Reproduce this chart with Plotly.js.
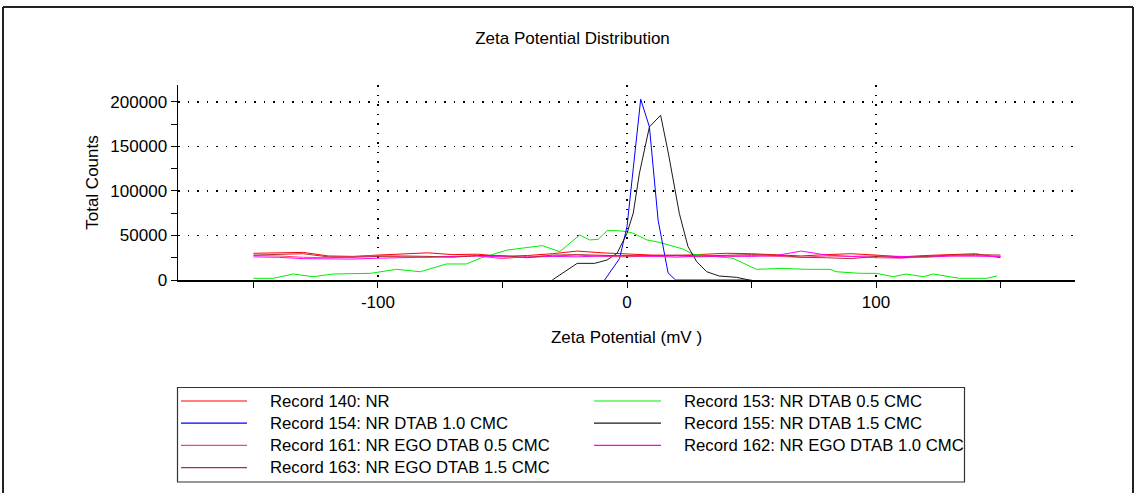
<!DOCTYPE html>
<html>
<head>
<meta charset="utf-8">
<script src="https://cdn.plot.ly/plotly-3.0.1.min.js"></script>
<style>html,body{margin:0;padding:0;background:#fff;}#chart{width:1137px;height:493px;}</style>
</head>
<body>
<div id="chart"></div>
<script>
// ---------- data ----------
const seriesNames = [
  "Record 140: NR",
  "Record 153: NR DTAB 0.5 CMC",
  "Record 154: NR DTAB 1.0 CMC",
  "Record 155: NR DTAB 1.5 CMC",
  "Record 161: NR EGO DTAB 0.5 CMC",
  "Record 162: NR EGO DTAB 1.0 CMC",
  "Record 163: NR EGO DTAB 1.5 CMC"
];
const seriesColors = ["#ff0000", "#00ee00", "#0000ff", "#1a1a1a", "#ff4080", "#ff00ff", "#b03030"];

const xFlat = [-150,-140,-130,-120,-110,-100,-90,-80,-70,-60,-50,-40,-30,-20,-10,0,10,20,30,40,50,60,70,80,90,100,110,120,130,140,150];
const rec140Y = [30000,30500,31000,27000,26500,28000,29500,30500,28500,29000,26500,27500,29500,32500,30500,29000,28000,27500,29000,30000,29500,28000,27000,28500,29500,28000,26000,27500,28500,29500,25000];
const rec161Y = [27500,27000,25500,25000,26000,27500,26000,25500,26500,27000,24000,26500,27000,28000,26500,26000,27000,25500,27000,26000,27500,26500,25500,27000,26500,25000,24500,26500,27000,27500,26500];
const rec162Y = [26000,25500,24000,23500,23500,24500,25000,26000,26500,27000,26000,25500,26500,26000,27000,27500,26500,27000,26000,27000,26500,27500,32500,28000,26500,27000,26500,25500,27000,27000,26500];
const rec163Y = [28000,28500,29500,26000,25500,26500,27000,26500,25500,27500,27500,25000,28000,28500,28000,27000,27500,28000,27000,28000,28500,28000,25500,25000,24000,26500,25000,26500,28000,28500,28000];

const rec153X = [-150,-142,-134,-126,-118,-103,-92.5,-83,-72.5,-64.5,-59,-48,-34,-27,-19,-15,-11.5,-8,-4,0,2.5,8,13,18.5,22.5,26.5,36,42.5,52,62,72,81.5,84,93.5,100,107,112,119,123,133.5,144.5,148.5];
const rec153Y = [1900,1900,6700,3700,6700,7500,12000,9300,18000,18000,24400,33700,38600,31800,50600,45000,45700,55400,55400,54300,52500,45000,42300,37500,34800,29000,26200,24400,12000,13000,12000,12000,9300,7500,7500,3700,6700,3700,6700,1900,1900,4500];

const rec154X = [-9,-3,0,5.5,9,12.5,16.5,19.5,30,40,50];
const rec154Y = [0,24000,60000,203000,172000,67000,8000,0,0,0,0];

const rec155X = [-30,-20,-13,-8,-4,0,2.5,5,9,13.5,16.5,21,24.5,28,32,37,44,49];
const rec155Y = [0,18700,18700,22500,30000,52500,75000,120000,172000,185000,144000,75000,37500,20600,9300,4500,3000,0];

const seriesX = [xFlat, rec153X, rec154X, rec155X, xFlat, xFlat, xFlat];
const seriesY = [rec140Y, rec153Y, rec154Y, rec155Y, rec161Y, rec162Y, rec163Y];

const xTickVals = [-100, 0, 100];
const xTickLabels = ["-100", "0", "100"];

// legend layout: column-major, two columns
const legendCol1 = [0, 2, 4, 6];
const legendCol2 = [1, 3, 5];

const chartTitle = "Zeta Potential Distribution";
const xTitle = "Zeta Potential (mV )";
const yTitle = "Total Counts";

// ---------- layout helpers ----------
const M = {l: 178, r: 62, t: 85, b: 213};
const W = 1137, H = 493;
const PW = W - M.l - M.r, PH = H - M.t - M.b;
const px = v => (v - M.l) / PW;
const py = v => (H - M.b - v) / PH;

const FONT = "Arial, 'Liberation Sans', sans-serif";
const FS = 17;
const FSL = 16.7;

const traces = seriesNames.map((n, i) => ({
  type: "scatter", mode: "lines", name: n,
  x: seriesX[i], y: seriesY[i],
  line: {color: seriesColors[i], width: 1},
  showlegend: false, hoverinfo: "skip"
}));

const shapes = [];
const annotations = [];

// outer frame
shapes.push({type: "line", xref: "paper", yref: "paper", x0: px(3), x1: px(1133), y0: py(7), y1: py(7), line: {color: "#222", width: 2}});
shapes.push({type: "line", xref: "paper", yref: "paper", x0: px(3), x1: px(3), y0: py(7), y1: py(500), line: {color: "#222", width: 2}});
shapes.push({type: "line", xref: "paper", yref: "paper", x0: px(1133), x1: px(1133), y0: py(7), y1: py(500), line: {color: "#222", width: 2}});

// legend box
shapes.push({type: "rect", xref: "paper", yref: "paper", x0: px(177.5), x1: px(964.5), y0: py(387.5), y1: py(482), line: {color: "#333", width: 1.2}, fillcolor: "rgba(0,0,0,0)"});

function legendEntry(idx, row, lineX0, lineX1, textX) {
  const yy = 401 + 22.2 * row;
  shapes.push({type: "line", xref: "paper", yref: "paper", x0: px(lineX0), x1: px(lineX1), y0: py(yy), y1: py(yy), line: {color: seriesColors[idx], width: 1.2}});
  annotations.push({xref: "paper", yref: "paper", x: px(textX), y: py(yy), xanchor: "left", yanchor: "middle",
    text: seriesNames[idx], showarrow: false, font: {family: FONT, size: FSL, color: "#000"}});
}
legendCol1.forEach((idx, r) => legendEntry(idx, r, 181, 247, 268));
legendCol2.forEach((idx, r) => legendEntry(idx, r, 594, 661, 682));

const layout = {
  width: W, height: H,
  margin: M,
  paper_bgcolor: "#fff", plot_bgcolor: "#fff",
  font: {family: FONT, size: FS, color: "#000"},
  title: {text: chartTitle, x: 572.5 / W, xanchor: "center", xref: "container", y: 1 - 38 / H, yanchor: "middle", yref: "container",
          font: {family: FONT, size: FS, color: "#000"}},
  showlegend: false,
  xaxis: {
    range: [-180.3, 179.9], tickmode: "array", tickvals: xTickVals, ticktext: xTickLabels,
    showline: true, linecolor: "#000", linewidth: 1.5,
    ticks: "outside", ticklen: 6, tickwidth: 1, tickcolor: "#000",
    minor: {dtick: 50, tick0: 0, ticks: "outside", ticklen: 6, tickwidth: 1, tickcolor: "#000", showgrid: false},
    showgrid: true, gridcolor: "#000", gridwidth: 1.5, griddash: "1.5px,8px",
    zeroline: false,
    tickfont: {family: FONT, size: FS, color: "#000"},
    title: {text: xTitle, standoff: 20, font: {family: FONT, size: FS, color: "#000"}},
    automargin: false, fixedrange: true
  },
  yaxis: {
    range: [0, 219000], tick0: 0, dtick: 50000, tickformat: "d",
    showline: true, linecolor: "#000", linewidth: 1.5,
    ticks: "outside", ticklen: 6, tickwidth: 1, tickcolor: "#000",
    minor: {dtick: 25000, tick0: 0, ticks: "outside", ticklen: 6, tickwidth: 1, tickcolor: "#000", showgrid: false},
    showgrid: true, gridcolor: "#000", gridwidth: 1.5, griddash: "1.5px,8px",
    zeroline: false,
    tickfont: {family: FONT, size: FS, color: "#000"},
    title: {text: yTitle, standoff: 7, font: {family: FONT, size: FS, color: "#000"}},
    automargin: false, fixedrange: true
  },
  shapes: shapes,
  annotations: annotations
};

Plotly.newPlot("chart", traces, layout, {displayModeBar: false, staticPlot: true});
</script>
</body>
</html>
